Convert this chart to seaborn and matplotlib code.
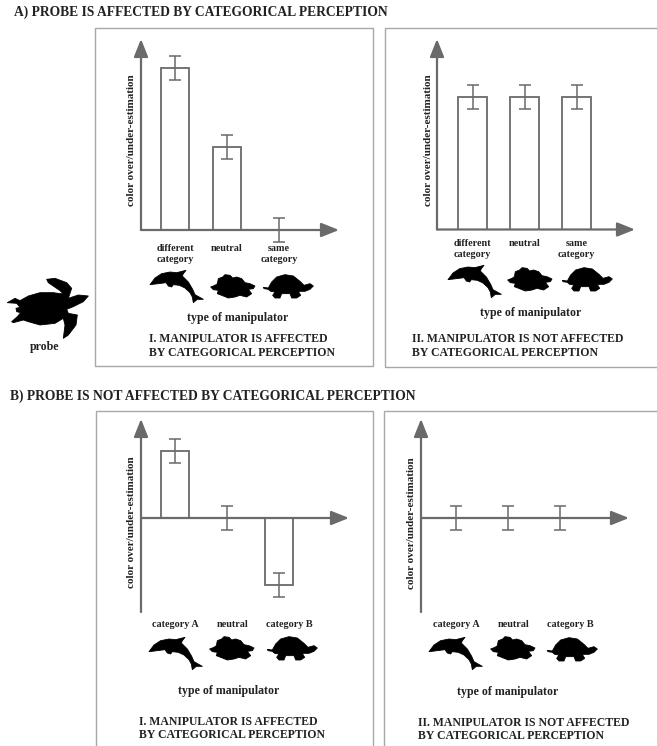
import numpy as np
import pandas as pd
import matplotlib
matplotlib.use("Agg")
import matplotlib.pyplot as plt
import seaborn as sns
from matplotlib.patches import Rectangle, Polygon

W, H = 657, 746
GREY = "#6a6a6a"
FRAME = "#a8a8a8"
INK = "#222222"

# chart values (arbitrary units, same scale in all panels)
labels_a1 = ["different\ncategory", "neutral", "same\ncategory"]
labels_b = ["category A", "neutral", "category B"]
values_a1 = [162, 83, 0]
values_a2 = [133, 133, 133]
values_b1 = [67, 0, -67]
values_b2 = [0, 0, 0]
errors_a = [12, 12, 12]
errors_b = [12, 12, 12]

sns.set_theme(style="white")
plt.rcParams["font.family"] = ["Liberation Serif", "DejaVu Serif"]
plt.rcParams["font.weight"] = "bold"

fig = plt.figure(figsize=(W / 100, H / 100), dpi=100, facecolor="white")

# overlay in pixel coordinates for frames, captions and silhouettes
bg = fig.add_axes([0, 0, 1, 1], zorder=0)
bg.set_xlim(0, W)
bg.set_ylim(H, 0)
bg.axis("off")

# silhouette outlines, traced at 3x from the crops of the top left panel
DOLPHIN = [(30, 68), (45, 48), (65, 35), (90, 30), (110, 32), (138, 25), (130, 35), (127, 42), (145, 60), (158, 82),
           (165, 98), (190, 112), (172, 112), (160, 122), (157, 105), (150, 92), (135, 78), (118, 70), (100, 68),
           (95, 75), (85, 72), (78, 62), (55, 65)]
BLOB = [(212, 75), (225, 70), (232, 65), (235, 50), (248, 45), (255, 38), (270, 40), (278, 48), (290, 45), (305, 50),
        (315, 62), (330, 65), (345, 72), (340, 80), (325, 82), (335, 95), (320, 105), (300, 100), (285, 105),
        (265, 108), (245, 100), (232, 95), (235, 85), (220, 83)]
TURTLE = [(370, 76), (385, 78), (395, 60), (410, 45), (435, 38), (460, 42), (480, 58), (492, 70), (510, 65), (520, 72),
          (510, 82), (495, 88), (475, 88), (482, 100), (470, 108), (455, 108), (450, 95), (425, 95), (420, 108),
          (405, 108), (398, 100), (405, 90), (392, 88), (385, 82), (372, 80)]
SEA_TURTLE = [(22, 98), (45, 85), (60, 92), (85, 78), (120, 68), (160, 68), (190, 72), (180, 62), (145, 38), (140, 28),
              (165, 25), (200, 38), (215, 55), (205, 85), (235, 75), (265, 78), (250, 95), (220, 110), (200, 118),
              (205, 130), (232, 135), (228, 165), (205, 195), (190, 205), (195, 165), (190, 145), (165, 160),
              (120, 165), (85, 155), (70, 150), (40, 158), (35, 155), (52, 140), (62, 128), (50, 125), (48, 115),
              (60, 112), (50, 100)]


def draw_shape(points, ox, oy):
    # points are in 3x crop pixels, ox/oy is where that crop starts
    xy = np.array(points) / 3 + (ox, oy)
    bg.add_patch(Polygon(xy, fc="black", ec="black", lw=0.6, joinstyle="round"))


def draw_panel(rect, y_range, values, errors, labels, ticks, pad, centre_px, ylabel_xy):
    # rect is left, top, right, bottom in pixels; bar centres sit 52 px apart
    left, top, right, bottom = rect
    ax = fig.add_axes([left / W, 1 - bottom / H, (right - left) / W, (bottom - top) / H], zorder=2)
    ax.patch.set_alpha(0)
    df = pd.DataFrame({"category": labels, "value": values})
    sns.barplot(data=df, x="category", y="value", order=labels, ax=ax, errorbar=None, fill=False,
                color=GREY, width=0.55, linewidth=1.3)
    err = ax.errorbar(range(len(values)), values, yerr=errors, fmt="none", ecolor=GREY, elinewidth=1.1,
                      capsize=4, capthick=1.1, zorder=4)
    for part in err.lines[1] + err.lines[2]:
        part.set_clip_on(False)
    ax.set_xlim((left - centre_px) / 52, (right - centre_px) / 52)
    ax.set_ylim(*y_range)
    sns.despine(ax=ax, left=True, bottom=True)
    ax.set_xticks(ticks, labels, fontsize=7.3, color=INK, linespacing=1.3)
    ax.tick_params(axis="x", length=0, pad=pad)
    ax.set_yticks([])
    ax.set_xlabel("")
    ax.set_ylabel("color over/under-estimation", fontsize=8, color=INK, fontweight="bold")
    ax.yaxis.set_label_coords((ylabel_xy[0] + 7 - left) / (right - left), (bottom - ylabel_xy[1]) / (bottom - top))
    # axis arrows, the tips run a little past the axes box
    arrow = dict(arrowstyle="-|>,head_length=0.9,head_width=0.36", color=GREY, lw=1.6,
                 shrinkA=0, shrinkB=0, mutation_scale=12)
    zero = (0 - y_range[0]) / (y_range[1] - y_range[0])
    ax.annotate("", xy=(0, 1 + 3 / (bottom - top)), xytext=(0, 0), xycoords="axes fraction",
                arrowprops=arrow, annotation_clip=False)
    ax.annotate("", xy=(1 + 2 / (right - left), zero), xytext=(0, zero), xycoords="axes fraction",
                arrowprops=arrow, annotation_clip=False)
    return ax


# panel frames, they run off the picture on the right and at the bottom
for x0, y0, x1, y1 in [(95, 28, 373, 366), (385, 28, 670, 366.5), (95.5, 411, 373, 760), (384, 411, 670, 760)]:
    bg.add_patch(Rectangle((x0, y0), x1 - x0, y1 - y0, fc="white", ec=FRAME, lw=1.0))

ticks_a = [0, 1, 2]
ticks_b = [0, 1.1, 2.2]
draw_panel((141, 42, 337, 230), (0, 188), values_a1, errors_a, labels_a1, ticks_a, 10, 175, (129, 140))
draw_panel((437, 42, 633, 229.5), (0, 187.5), values_a2, errors_a, labels_a1, ticks_a, 7, 472.5, (426, 140))
draw_panel((141, 422, 347, 612), (-94, 96), values_b1, errors_b, labels_b, ticks_b, 6, 175, (129, 522))
draw_panel((421, 422, 627, 612), (-94, 96), values_b2, errors_b, labels_b, ticks_b, 6, 456, (409, 523))

for dx, dy in [(0, 0), (298, -5), (-1, 367), (279, 367)]:
    draw_shape(DOLPHIN, 140 + dx, 262 + dy)
for dx, dy in [(0, 0), (297, -7), (-1, 362), (280, 362)]:
    draw_shape(BLOB, 140 + dx, 262 + dy)
for dx, dy in [(0, 0), (299, -7), (4, 362), (284, 363)]:
    draw_shape(TURTLE, 140 + dx, 262 + dy)
draw_shape(SEA_TURTLE, 0, 270)

# captions
head = dict(fontsize=9.75, color=INK, va="center", ha="left")
bg.text(14, 12, "A) PROBE IS AFFECTED BY CATEGORICAL PERCEPTION", **head)
bg.text(10, 396, "B) PROBE IS NOT AFFECTED BY CATEGORICAL PERCEPTION", **head)
bg.text(45, 347, "probe", fontsize=8.6, color=INK, ha="center", va="center")

sub = dict(fontsize=8.6, color=INK, ha="center", va="center")
for x, y in [(238, 318), (531, 313), (229, 691), (508, 692)]:
    bg.text(x, y, "type of manipulator", **sub)

cap = dict(fontsize=8.45, color=INK, ha="left", va="center")
second = "BY CATEGORICAL PERCEPTION"
bg.text(149, 339, "I. MANIPULATOR IS AFFECTED", **cap)
bg.text(149, 353, second, **cap)
bg.text(412, 339, "II. MANIPULATOR IS NOT AFFECTED", **cap)
bg.text(412, 353, second, **cap)
bg.text(139, 722, "I. MANIPULATOR IS AFFECTED", **cap)
bg.text(139, 735, second, **cap)
bg.text(418, 723, "II. MANIPULATOR IS NOT AFFECTED", **cap)
bg.text(418, 736, second, **cap)

fig.savefig("out.png", dpi=100)
